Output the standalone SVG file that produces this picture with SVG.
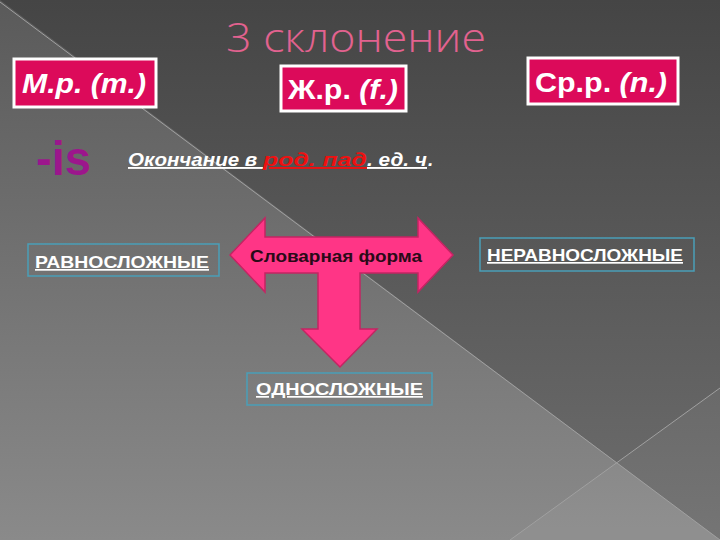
<svg xmlns="http://www.w3.org/2000/svg" width="720" height="540" viewBox="0 0 720 540">
  <defs>
    <linearGradient id="bgTop" x1="0" y1="0" x2="0" y2="1">
      <stop offset="0" stop-color="#454545"/>
      <stop offset="1" stop-color="#6e6e6e"/>
    </linearGradient>
    <linearGradient id="bgLeft" x1="0" y1="0" x2="0" y2="1">
      <stop offset="0" stop-color="#5a5a5a"/>
      <stop offset="1" stop-color="#8a8a8a"/>
    </linearGradient>
    <style>
      .diag { stroke: #a0a0a0; stroke-width: 1; fill: none; }
      .gbox { fill: #dc0a5a; stroke: #ffffff; stroke-width: 3; }
      .gtxt { font-family: "Liberation Sans", Arial, sans-serif; font-weight: bold; font-size: 27px; fill: #ffffff; }
      .bbox { fill: none; stroke: #4a9fb8; stroke-width: 1.5; }
      .btxt { font-family: "Liberation Sans", Arial, sans-serif; font-weight: bold; font-size: 17px; fill: #ffffff; text-decoration: underline; }
      .ul { font-family: "Liberation Sans", Arial, sans-serif; font-weight: bold; font-style: italic; font-size: 19px; }
    </style>
  </defs>

  <!-- background -->
  <rect x="0" y="0" width="720" height="540" fill="url(#bgTop)"/>
  <polygon points="0,0 720,540 0,540" fill="url(#bgLeft)"/>
  <polygon points="510,540 720,388 720,540" fill="#ffffff" fill-opacity="0.05"/>
  <line class="diag" x1="0" y1="2" x2="720" y2="540"/>
  <line class="diag" x1="510" y1="540" x2="720" y2="388"/>

  <g id="title">
    <text x="356" y="52" text-anchor="middle" font-family="'Open Sans', 'Liberation Sans', sans-serif" font-weight="300" font-size="41" fill="#e2628f" textLength="260" lengthAdjust="spacingAndGlyphs">3 склонение</text>
  </g>

  <g id="box-m">
    <rect class="gbox" x="14" y="59" width="142" height="48"/>
    <text class="gtxt" x="22" y="93" font-style="italic" textLength="124" lengthAdjust="spacingAndGlyphs">М.р. (m.)</text>
  </g>

  <g id="box-f">
    <rect class="gbox" x="281" y="66" width="125" height="45"/>
    <text class="gtxt" x="288" y="99" textLength="110" lengthAdjust="spacingAndGlyphs">Ж.р. <tspan font-style="italic">(f.)</tspan></text>
  </g>

  <g id="box-n">
    <rect class="gbox" x="528" y="58" width="150" height="46"/>
    <text class="gtxt" x="535" y="92" textLength="132" lengthAdjust="spacingAndGlyphs">Ср.р. <tspan font-style="italic">(n.)</tspan></text>
  </g>

  <g id="ending-is">
    <text x="36" y="175" font-family="'Liberation Sans', Arial, sans-serif" font-weight="bold" font-size="48" fill="#9c168c" textLength="55" lengthAdjust="spacingAndGlyphs">-is</text>
  </g>

  <g id="ending-text">
    <text class="ul" x="128" y="166" fill="#ffffff" text-decoration="underline" xml:space="preserve" textLength="135" lengthAdjust="spacingAndGlyphs">Окончание в </text>
    <text class="ul" x="263" y="166" fill="#ee1111" text-decoration="underline" textLength="104" lengthAdjust="spacingAndGlyphs">род. пад</text>
    <text class="ul" x="367" y="166" fill="#ffffff" text-decoration="underline" textLength="60" lengthAdjust="spacingAndGlyphs">. ед. ч</text>
    <text class="ul" x="428" y="166" fill="#ffffff">.</text>
  </g>

  <g id="slovarnaya-forma">
    <path d="M230,255 L265,218 L265,237 L418,237 L418,218 L453,255 L418,292 L418,273 L360,273 L360,329 L377,329 L340,367 L302,329 L318,329 L318,273 L265,273 L265,292 Z" fill="#ff3586" stroke="#c42463" stroke-width="1.5" stroke-linejoin="miter"/>
    <text x="336" y="262" text-anchor="middle" font-family="'Liberation Sans', Arial, sans-serif" font-weight="bold" font-size="16" fill="#2a0a18" textLength="172" lengthAdjust="spacingAndGlyphs">Словарная форма</text>
  </g>

  <g id="ravnoslozhnye">
    <rect class="bbox" x="28" y="244" width="191" height="32"/>
    <text class="btxt" x="35" y="268" textLength="174" lengthAdjust="spacingAndGlyphs">РАВНОСЛОЖНЫЕ</text>
  </g>

  <g id="neravnoslozhnye">
    <rect class="bbox" x="480" y="238" width="214" height="33"/>
    <text class="btxt" x="487" y="261" textLength="196" lengthAdjust="spacingAndGlyphs">НЕРАВНОСЛОЖНЫЕ</text>
  </g>

  <g id="odnoslozhnye">
    <rect class="bbox" x="247" y="373" width="185" height="32"/>
    <text class="btxt" x="256" y="395" textLength="167" lengthAdjust="spacingAndGlyphs">ОДНОСЛОЖНЫЕ</text>
  </g>

  <g id="connectors"/>
</svg>
